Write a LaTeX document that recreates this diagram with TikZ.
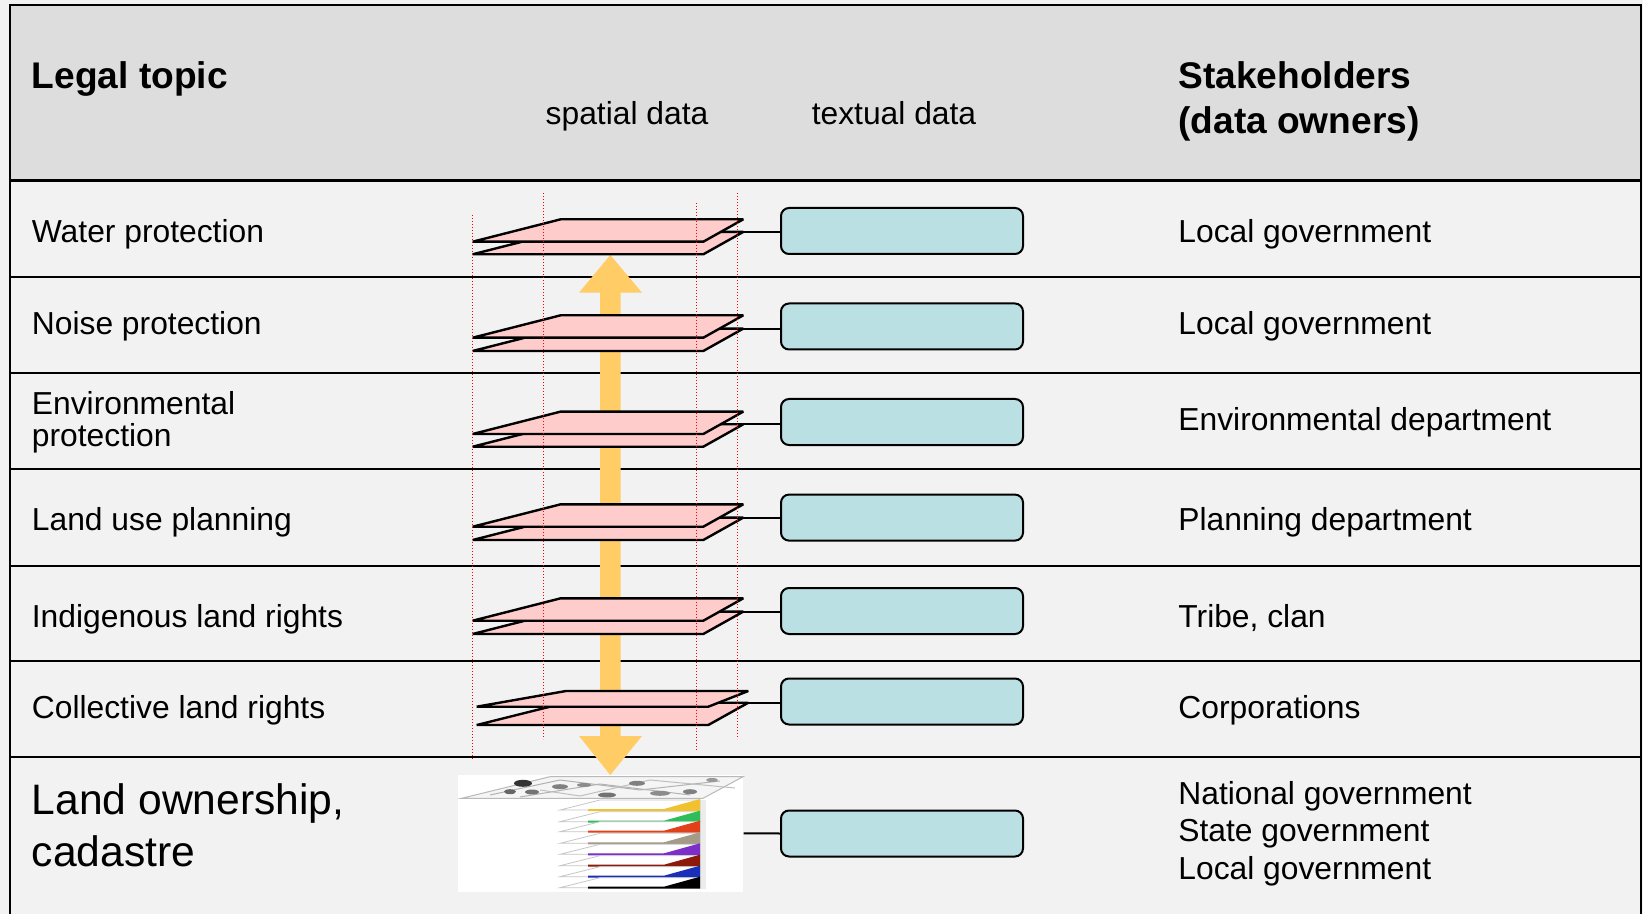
\documentclass[tikz,border=0pt]{standalone}
\usepackage{fontspec}
\setmainfont{Liberation Sans}
\definecolor{rowgrey}{HTML}{F2F2F2}
\definecolor{headgrey}{HTML}{DDDDDD}
\definecolor{sheetpink}{HTML}{FFCCCC}
\definecolor{textblue}{HTML}{BBE0E3}
\definecolor{arrowgold}{HTML}{FFCC66}
\definecolor{lyellow}{HTML}{F2C12E}
\definecolor{lgreen}{HTML}{2DBE5A}
\definecolor{lred}{HTML}{E0401A}
\definecolor{ltaupe}{HTML}{A39A88}
\definecolor{lpurple}{HTML}{7B2FC8}
\definecolor{ldarkred}{HTML}{8B1A0A}
\definecolor{lblue}{HTML}{1A2FB8}

\begin{document}
\begin{tikzpicture}[x=0.5pt, y=-0.5pt,
    topic/.style={anchor=base west, inner sep=0pt, font=\fontsize{15.9}{18}\selectfont},
    bigtopic/.style={anchor=base west, inner sep=0pt, font=\fontsize{21.3}{25}\selectfont},
    head/.style={anchor=base west, inner sep=0pt, font=\fontsize{18.55}{22}\selectfont\bfseries},
    colhead/.style={anchor=base, inner sep=0pt, font=\fontsize{15.9}{18}\selectfont},
    textbox/.style={rectangle, rounded corners=4pt, minimum width=121pt, minimum height=23pt, inner sep=0pt, draw, line width=1pt, fill=textblue},
    sheet/.style={draw, line width=1.2pt, line join=bevel, fill=sheetpink},
    guide/.style={red, line width=0.5pt, dash pattern=on 0.6pt off 0.9pt},
    rule/.style={line width=1pt}]
        \useasboundingbox (0,0) rectangle (1643,914);
        \fill[rowgrey] (0,0) rectangle (1643,914);
        \fill[headgrey] (10,5) rectangle (1641,180.7);

        % table
        \draw[rule] (10,914) -- (10,5) -- (1641,5) -- (1641,914);
        \draw[line width=1.5pt] (10,180.7) -- (1641,180.7);
        \draw[rule] (10,276.7) -- (1641,276.7);
        \draw[rule] (10,372.7) -- (1641,372.7);
        \draw[rule] (10,468.7) -- (1641,468.7);
        \draw[rule] (10,565.7) -- (1641,565.7);
        \draw[rule] (10,661) -- (1641,661);
        \draw[rule] (10,756.7) -- (1641,756.7);

        \node[head] (legal) at (31.5,88.3) {Legal topic};
        \node[colhead] (spatial) at (627,125) {spatial data};
        \node[colhead] (textual) at (894,125) {textual data};
        \node[head] (stake1) at (1178,88.3) {Stakeholders};
        \node[head] (stake2) at (1178,133.3) {(data owners)};

        \node[topic] (water) at (31.5,242.7) {Water protection};
        \node[topic] (noise) at (31.5,334.3) {Noise protection};
        \node[topic] (env1) at (31.5,415) {Environmental};
        \node[topic] (env2) at (31.5,446.7) {protection};
        \node[topic] (landuse) at (31.5,530.7) {Land use planning};
        \node[topic] (indig) at (31.5,627.3) {Indigenous land rights};
        \node[topic] (collect) at (31.5,718.3) {Collective land rights};
        \node[bigtopic] (own1) at (31.5,814.3) {Land ownership,};
        \node[bigtopic] (own2) at (31.5,866.7) {cadastre};

        \node[topic] (owner1) at (1178,242.7) {Local government};
        \node[topic] (owner2) at (1178,334.3) {Local government};
        \node[topic] (owner3) at (1178,430.7) {Environmental department};
        \node[topic] (owner4) at (1178,530.7) {Planning department};
        \node[topic] (owner5) at (1178,627.3) {Tribe, clan};
        \node[topic] (owner6) at (1178,718.3) {Corporations};
        \node[topic] (owner7a) at (1178,804) {National government};
        \node[topic] (owner7b) at (1178,841.7) {State government};
        \node[topic] (owner7c) at (1178,879.3) {Local government};

        % textual data boxes
        \node[textbox] (t1) at (902,231) {};
        \node[textbox] (t2) at (902,326.5) {};
        \node[textbox] (t3) at (902,422) {};
        \node[textbox] (t4) at (902,517.6) {};
        \node[textbox] (t5) at (902,611) {};
        \node[textbox] (t6) at (902,701.5) {};
        \node[textbox] (t7) at (902,833.5) {};

        \coordinate (s1) at (743.3,231.7);
        \coordinate (s2) at (743.3,328.6);
        \coordinate (s3) at (743.3,424.3);
        \coordinate (s4) at (743.3,517.6);
        \coordinate (s5) at (743.3,611.6);
        \coordinate (s6) at (748.3,702.7);

        \draw[rule] (s1) -- (s1 -| t1.west);
        \draw[rule] (s2) -- (s2 -| t2.west);
        \draw[rule] (s3) -- (s3 -| t3.west);
        \draw[rule] (s4) -- (s4 -| t4.west);
        \draw[rule] (s5) -- (s5 -| t5.west);
        \draw[rule] (s6) -- (s6 -| t6.west);

        % up and down arrow behind the sheets
        \fill[arrowgold] (610.3,255) -- (642,292.7) -- (620.7,292.7) -- (620.7,736) -- (642,736)
            -- (610.3,775) -- (579,736) -- (600,736) -- (600,292.7) -- (579,292.7) -- cycle;

        % spatial data sheets
        \filldraw[sheet] (472.7,254.3) -- ++(230.6,0) -- ++(40,-22.4) -- ++(-182.6,0) -- cycle;
        \filldraw[sheet] (472.7,241.7) -- ++(230.6,0) -- ++(40,-22.4) -- ++(-182.6,0) -- cycle;
        \filldraw[sheet] (472.7,351) -- ++(230.6,0) -- ++(40,-22.4) -- ++(-182.6,0) -- cycle;
        \filldraw[sheet] (472.7,337.7) -- ++(230.6,0) -- ++(40,-22.4) -- ++(-182.6,0) -- cycle;
        \filldraw[sheet] (472.7,446.7) -- ++(230.6,0) -- ++(40,-22.4) -- ++(-182.6,0) -- cycle;
        \filldraw[sheet] (472.7,434) -- ++(230.6,0) -- ++(40,-22.4) -- ++(-182.6,0) -- cycle;
        \filldraw[sheet] (472.7,540) -- ++(230.6,0) -- ++(40,-22.4) -- ++(-182.6,0) -- cycle;
        \filldraw[sheet] (472.7,526.7) -- ++(230.6,0) -- ++(40,-22.4) -- ++(-182.6,0) -- cycle;
        \filldraw[sheet] (472.7,634) -- ++(230.6,0) -- ++(40,-22.4) -- ++(-182.6,0) -- cycle;
        \filldraw[sheet] (472.7,620.7) -- ++(230.6,0) -- ++(40,-22.4) -- ++(-182.6,0) -- cycle;
        \filldraw[sheet] (476.7,725) -- ++(231.6,0) -- ++(40,-22.3) -- ++(-182.3,0) -- cycle;
        \filldraw[sheet] (476.7,706.7) -- ++(231.6,0) -- ++(40,-15.7) -- ++(-182.3,0) -- cycle;

        \draw[guide] (472.7,215) -- (472.7,760.7);
        \draw[guide] (543.3,193.3) -- (543.3,739.3);
        \draw[guide] (696,203) -- (696,750);
        \draw[guide] (737.3,193.3) -- (737.3,739.3);

        % cadastre layers
        \node[fill=white, inner sep=0pt, minimum width=142.5pt, minimum height=58.35pt] (cad) at (600.8,833.3) {};
        \draw[rule] (cad.east) -- (t7.west);
        \filldraw[draw=gray!55, fill=gray!8, line width=0.5pt] (461.7,798.3) -- (703,798.3) -- (743,776.7) -- (550,776.7) -- cycle;
        \draw[gray!60, line width=0.5pt] (490,795) -- (560,780) -- (640,790) -- (720,781);
        \draw[gray!60, line width=0.5pt] (520,797) -- (600,784) -- (690,795);
        \draw[gray!50, line width=0.5pt] (540,790) -- (580,796) -- (650,780) -- (735,788);
        \fill[black!80] (523,783.3) ellipse (9 and 3.5);
        \fill[black!60] (510,791.7) ellipse (6 and 2.5);
        \fill[black!55] (532,792) ellipse (7 and 2.5);
        \fill[black!50] (560,786.7) ellipse (8 and 2.5);
        \fill[black!45] (584,785) ellipse (7 and 2);
        \fill[black!55] (607,795) ellipse (9 and 2.5);
        \fill[black!50] (637,783.3) ellipse (8 and 2.5);
        \fill[black!45] (660,793.3) ellipse (10 and 2.5);
        \fill[black!50] (690,791.7) ellipse (7 and 2.5);
        \fill[black!40] (712,780) ellipse (6 and 2);
        \fill[gray!15] (700,800) rectangle (706,889);
        \foreach \y/\c in {810/lyellow, 821.7/lgreen, 831.7/lred, 843.3/ltaupe, 854.3/lpurple, 865.7/ldarkred, 876.7/lblue, 887.7/black} {
            \filldraw[draw=gray!45, fill=white, line width=0.4pt] (560,\y) -- (700,\y) -- (700,\y-10) -- (600,\y-10) -- cycle;
            \fill[\c] (588,\y-1) -- (664,\y-1) -- (700,\y-11) -- (700,\y+1) -- (588,\y+1) -- cycle;
        }

    \end{tikzpicture}
\end{document}
